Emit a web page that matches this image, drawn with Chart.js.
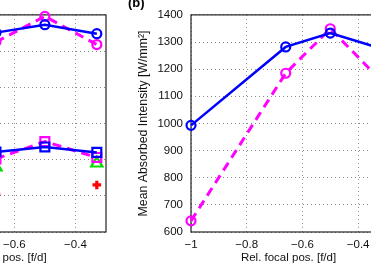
<!DOCTYPE html>
<html lang="en">
<head>
<meta charset="UTF-8">
<title>Rel. focal pos.</title>
<script src="https://cdn.jsdelivr.net/npm/chart.js@4.4.1/dist/chart.umd.min.js"></script>
<style>
    body { margin: 0; background: #fff; }
    #wrap { position: relative; width: 371px; height: 265px; overflow: hidden; background: #fff; }
    .panel { position: absolute; top: 0; height: 265px; }
</style>
</head>
<body>
<div id="wrap">
    <!-- panel (a) is cut off on the left, panel (b) runs past the right edge -->
    <div class="panel" style="left:-180px;width:300px"><canvas id="chartA"></canvas></div>
    <div class="panel" style="left:120px;width:280px"><canvas id="chartB"></canvas></div>
</div>
<script>
// x positions of the measurements
const focalPos = [-1, -0.66, -0.5, -0.33];
const xTickVals = [-1, -0.8, -0.6, -0.4];

// panel (a), its y labels are outside the picture
const aTickVals = [0, 10, 20, 30, 40, 50, 60];
const aBlueCircle = [null, 55.1, 57.3, 54.8];
const aMagentaCircle = [null, 52.5, 59.6, 51.8];
const aBlueSquare = [null, 22.1, 23.5, 22.0];
const aMagentaSquare = [null, 20.2, 25.0, 20.6];
const aGreen = [null, 17.9, null, 19.0];
const aRed = [null, 10.4, null, 13.0];

// panel (b) mean absorbed intensity
const bTickVals = [600, 700, 800, 900, 1000, 1100, 1200, 1300, 1400];
const bBlue = [993, 1282, 1333, 1280];
const bMagenta = [641, 1185, 1349, 1171];

const BLUE = '#0000ff', MAGENTA = '#ff00ff', GREEN = '#00dc00', RED = '#ff0000';

Chart.defaults.font.family = '"Liberation Sans", Arial, Helvetica, sans-serif';
Chart.defaults.font.size = 11.5;
Chart.defaults.color = '#111';

function f_minus(v) {
    return String(Math.round(v * 100) / 100).replace('-', '\u2212');
}

// box round the plot area + panel letter
const boxPlugin = {
    id: 'box',
    beforeDatasetsDraw(chart, args, opts) {
        const ctx = chart.ctx, a = chart.chartArea;
        ctx.save();
        ctx.strokeStyle = '#222';
        ctx.lineWidth = 1.2;
        ctx.strokeRect(a.left, a.top, a.width, a.height);
        ctx.restore();
    },
    afterDraw(chart, args, opts) {
        if (!opts.label) return;
        const ctx = chart.ctx;
        ctx.save();
        ctx.font = 'bold 13px "Liberation Sans", Arial, sans-serif';
        ctx.fillStyle = '#000';
        ctx.textBaseline = 'middle';
        ctx.fillText(opts.label, 8, 3);
        ctx.restore();
    }
};

function f_points(vals) {
    return focalPos.map((x, i) => ({x: x, y: vals[i]}));
}

function f_set(label, vals, color, style, radius, dashed, showLine) {
    return {
        label: label,
        data: f_points(vals),
        borderColor: color,
        backgroundColor: 'rgba(0,0,0,0)',
        borderWidth: dashed ? 3 : 2.5,
        borderDash: dashed ? [9, 6] : [],
        pointStyle: style,
        pointRadius: radius,
        pointBorderWidth: style === 'cross' ? 3.2 : 2.2,
        pointBorderColor: color,
        pointBackgroundColor: 'rgba(0,0,0,0)',
        showLine: showLine,
        spanGaps: false,
        clip: false
    };
}

function f_grid() {
    return { color: '#8a8a8a', lineWidth: 1, drawTicks: false };
}

function f_border() {
    // dotted grid lines, the frame comes from the plugin
    return { display: false, dash: [1, 3] };
}

function f_xScale() {
    return {
        type: 'linear', min: -1, max: -0.3,
        afterBuildTicks: s => { s.ticks = xTickVals.map(v => ({value: v})); },
        afterFit: s => { s.height = 33; },
        grid: f_grid(),
        border: f_border(),
        ticks: { padding: 6, callback: v => f_minus(v), maxRotation: 0 },
        title: { display: true, text: 'Rel. focal pos. [f/d]', padding: {top: 0, bottom: 0} }
    };
}

new Chart(document.getElementById('chartA'), {
    type: 'scatter',
    data: {
        datasets: [
            f_set('blue o', aBlueCircle, BLUE, 'circle', 4.5, false, true),
            f_set('blue s', aBlueSquare, BLUE, 'rect', 6.3, false, true),
            f_set('magenta o', aMagentaCircle, MAGENTA, 'circle', 4.5, true, true),
            f_set('magenta s', aMagentaSquare, MAGENTA, 'rect', 6.3, true, true),
            f_set('green', aGreen, GREEN, 'triangle', 6.5, false, false),
            f_set('red', aRed, RED, 'cross', 4.3, false, false)
        ]
    },
    options: {
        responsive: true,
        maintainAspectRatio: false,
        animation: false,
        layout: { padding: {top: 13, right: 14, left: 0, bottom: 0} },
        plugins: { legend: {display: false}, tooltip: {enabled: false}, box: {} },
        scales: {
            x: f_xScale(),
            y: {
                type: 'linear', min: 0, max: 60,
                afterBuildTicks: s => { s.ticks = aTickVals.map(v => ({value: v})); },
                afterFit: s => { s.width = 72; },
                grid: f_grid(),
                border: f_border(),
                ticks: { padding: 8, callback: v => String(v) }
            }
        }
    },
    plugins: [boxPlugin]
});

new Chart(document.getElementById('chartB'), {
    type: 'scatter',
    data: {
        datasets: [
            f_set('blue', bBlue, BLUE, 'circle', 4.5, false, true),
            f_set('magenta', bMagenta, MAGENTA, 'circle', 4.5, true, true)
        ]
    },
    options: {
        responsive: true,
        maintainAspectRatio: false,
        animation: false,
        layout: { padding: {top: 13, right: 14, left: 0, bottom: 0} },
        plugins: { legend: {display: false}, tooltip: {enabled: false}, box: {label: '(b)'} },
        scales: {
            x: f_xScale(),
            y: {
                type: 'linear', min: 600, max: 1400,
                afterBuildTicks: s => { s.ticks = bTickVals.map(v => ({value: v})); },
                afterFit: s => { s.width = 71; },
                grid: f_grid(),
                border: f_border(),
                ticks: { padding: 8, callback: v => String(v) },
                title: { display: true, text: 'Mean Absorbed Intensity [W/mm\u00b2]', font: {size: 12.3}, padding: {top: 16, bottom: 0} }
            }
        }
    },
    plugins: [boxPlugin]
});
</script>
</body>
</html>
